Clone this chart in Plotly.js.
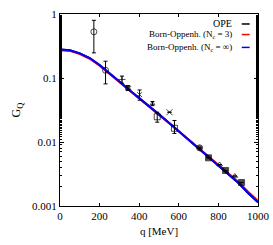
<!DOCTYPE html>
<html><head><meta charset="utf-8">
<script src="https://cdn.plot.ly/plotly-3.0.1.min.js"></script>
<style>html,body{margin:0;padding:0;background:#fff;}#chart{width:273px;height:245px;}</style>
</head><body><div id="chart"></div>
<script>
// Curves
var curveQ = [0,50,100,150,200,250,300,350,400,450,500,550,600,650,700,750,800,850,900,950,1000];
var opeG   = [0.279,0.272,0.243,0.205,0.160,0.120,0.088,0.065,0.049,0.036,0.027,0.020,0.0147,0.0108,0.0080,0.0059,0.0044,0.0032,0.0023,0.0016,0.00114];
var bo3G   = [0.271,0.265,0.237,0.200,0.156,0.117,0.086,0.064,0.048,0.0356,0.0268,0.0199,0.0147,0.0109,0.0081,0.0060,0.0045,0.0033,0.0024,0.00167,0.00120];
var boInfG = [0.279,0.272,0.243,0.205,0.160,0.120,0.088,0.065,0.049,0.036,0.027,0.020,0.0147,0.0108,0.0080,0.0059,0.0044,0.0032,0.0023,0.0016,0.00114];

// Experimental points
var expQ      = [171,230,313,343,402,467,491,553,578,705,750,806,836,883,917];
var expG      = [0.527,0.132,0.095,0.070,0.055,0.040,0.0248,0.0292,0.0164,0.0081,0.00566,0.00445,0.00359,0.00294,0.00233];
var expErrUp  = [0.27,0.051,0.012,0.006,0.010,0.003,0.0044,0,0.0053,0,0,0,0,0,0];
var expErrDn  = [0.28,0.051,0.012,0.006,0.010,0.003,0.0044,0,0.0028,0,0,0,0,0,0];
var expSymbol = ['circle-open','circle-open','cross-thin-open','x','x-thin-open','triangle-up-open','square-open','x-thin-open','square-open','circle','square','triangle-up-open','square','triangle-up-open','square'];
var expSize   = [6,6,5,5,5,4,6,6,6,6,6,5,6,5,6];

var legendText = ['OPE','Born-Oppenh. (N<sub>c</sub> = 3)','Born-Oppenh. (N<sub>c</sub> = ∞)'];
var legendColor = ['#000000','#ff0000','#0000ff'];

var serif = 'Liberation Serif, Times New Roman, serif';

var traces = [
  {x: curveQ, y: opeG, mode:'lines', line:{color:legendColor[0], width:2}, name: legendText[0]},
  {x: curveQ, y: bo3G, mode:'lines', line:{color:legendColor[1], width:2}, name: legendText[1]},
  {x: curveQ, y: boInfG, mode:'lines', line:{color:legendColor[2], width:2}, name: legendText[2]},
  {x: expQ, y: expG, mode:'markers',
   marker:{symbol: expSymbol, size: expSize, color:'#000', line:{color:'#000', width:1}},
   error_y:{type:'data', symmetric:false, array: expErrUp, arrayminus: expErrDn, color:'#000', thickness:1, width:2},
   name:'data'}
];

var annotations = [];
var shapes = [];
var legY = [0.948, 0.893, 0.826];
for (var i=0;i<legendText.length;i++){
  annotations.push({xref:'paper', yref:'paper', x:0.872, y:legY[i], xanchor:'right', yanchor:'middle',
    text: legendText[i], showarrow:false, borderpad:0, font:{family:serif, size: i===0?10:9, color:'#000'}});
  shapes.push({type:'line', xref:'paper', yref:'paper', x0:0.918, x1:0.958, y0:legY[i], y1:legY[i],
    line:{color:legendColor[i], width:1.5}});
}

var layout = {
  width:273, height:245,
  margin:{l:60, r:15, t:14, b:39},
  paper_bgcolor:'#fff', plot_bgcolor:'#fff',
  showlegend:false,
  font:{family:serif, size:11, color:'#000'},
  xaxis:{range:[0,1000], tickvals:[0,200,400,600,800,1000], ticks:'inside', ticklen:3, tickcolor:'#000',
    showline:true, linecolor:'#000', linewidth:1, mirror:'allticks', showgrid:false, zeroline:false,
    tickfont:{family:serif, size:11}, title:{text:'q [MeV]', font:{family:serif, size:11}, standoff:6}},
  yaxis:{type:'log', range:[-3,0], tickvals:[0.001,0.01,0.1,1], ticktext:['0.001','0.01','0.1','1'],
    ticks:'inside', ticklen:4, tickcolor:'#000',
    minor:{ticks:'inside', ticklen:2, tickcolor:'#000', showgrid:false},
    showline:true, linecolor:'#000', linewidth:1, mirror:'allticks', showgrid:false, zeroline:false,
    tickfont:{family:serif, size:11}, title:{text:'G<sub>Q</sub>', font:{family:serif, size:12}, standoff:8}},
  annotations: annotations,
  shapes: shapes
};

Plotly.newPlot('chart', traces, layout, {staticPlot:true, displayModeBar:false});
</script>
</body></html>
